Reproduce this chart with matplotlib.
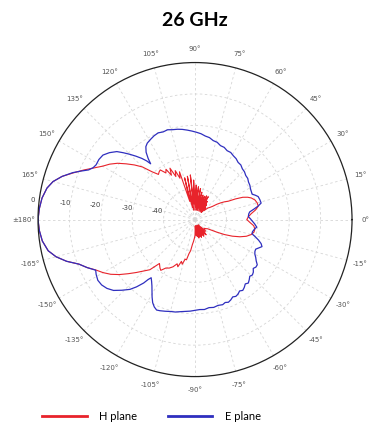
import numpy as np
import matplotlib.pyplot as plt

# H plane (red) - angle in degrees, gain in dB
h_ang = [180, 176, 172, 168, 165, 162, 159, 156, 153, 150, 147, 144, 141, 138, 135, 132,
         129, 127, 125, 122, 120, 118, 116, 114, 112, 110, 108, 106, 104, 102, 100, 98,
         96, 94, 92, 90, 88, 86, 84, 82, 80, 78, 76, 74, 72, 70, 68, 66, 64, 62, 60, 58,
         56, 54, 52, 50, 48, 45, 42, 39, 37, 35, 33, 31, 29, 27, 25, 23, 21, 18, 15, 12,
         9, 6, 3, 0, -3, -6, -9, -12, -15, -18, -21, -24, -27, -30, -33, -36, -40, -44,
         -48, -52, -54, -56, -58, -60, -62, -64, -66, -68, -70, -72, -74, -76, -78, -80,
         -82, -84, -86, -88, -90, -92, -94, -96, -98, -100, -102, -104, -106, -108, -110,
         -112, -115, -118, -121, -124, -126, -129, -132, -135, -138, -141, -144, -147,
         -150, -153, -156, -159, -162, -165, -168, -172, -176, -180]
h_db = [0.0, -0.3, -0.8, -1.8, -3.2, -5.5, -8.5, -11.2, -13.8, -16.0, -17.6, -19.5, -21.8,
        -24.0, -26.3, -29.5, -31.5, -31.0, -30.7, -32.5, -31.5, -34.0, -31.8, -35.0, -33.2,
        -36.0, -34.0, -44.0, -36.3, -46.0, -36.0, -47.0, -35.7, -45.0, -37.4, -47.0, -39.0,
        -46.0, -39.5, -47.0, -40.0, -46.5, -41.0, -47.0, -41.8, -46.0, -42.0, -47.0, -41.6,
        -46.5, -41.6, -47.0, -43.0, -46.5, -44.0, -47.0, -45.0, -46.0, -44.5, -43.8, -43.0,
        -41.5, -40.2, -39.0, -38.0, -35.5, -33.2, -31.8, -30.8, -29.9, -29.5, -29.4, -30.5,
        -32.0, -33.0, -33.5, -32.5, -31.2, -30.7, -30.8, -31.5, -32.8, -34.7, -37.0, -39.5,
        -42.0, -43.8, -45.0, -45.5, -46.0, -45.0, -47.0, -44.0, -48.0, -44.5, -47.5, -44.0,
        -48.0, -44.5, -47.0, -44.0, -48.0, -44.5, -47.0, -44.0, -48.0, -44.5, -47.0, -45.0,
        -48.0, -45.0, -44.0, -43.0, -42.0, -40.0, -39.0, -36.9, -37.0, -35.2, -36.0, -34.0,
        -34.8, -33.4, -32.5, -32.0, -30.5, -31.0, -32.0, -28.5, -26.8, -24.8, -22.6, -20.2,
        -18.0, -16.2, -14.6, -12.4, -10.4, -7.0, -4.2, -2.2, -0.9, -0.3, 0.0]

# E plane (blue)
e_ang = [180, 176, 172, 168, 165, 162, 159, 157, 155, 153, 151, 148, 145, 142, 139, 137,
         135, 133, 131, 129.5, 128.5, 127.5, 126, 124, 122, 119, 116, 113, 110, 107, 104,
         101, 98, 95, 92, 89, 86, 83, 80, 77, 74, 71, 68, 65, 62, 59, 56, 53, 50, 47, 44,
         41, 38, 35, 32, 29, 26, 24, 22, 20, 17, 14, 12, 10, 8, 6, 3, 1, -1, -4, -7, -9,
         -12, -14, -16, -18, -20, -22, -24, -26, -28, -30, -32, -34, -36, -38, -40, -42,
         -44, -46, -48, -50, -52, -54, -56, -58, -60, -62, -64, -66, -68, -70, -72, -75,
         -78, -81, -84, -87, -90, -93, -96, -99, -102, -105, -108, -111, -113, -115, -117,
         -119, -121, -123, -125, -127, -128, -129, -131, -133, -136, -139, -142, -145, -148,
         -151, -153, -156, -159, -162, -165, -168, -172, -176, -180]
e_db = [0.0, -0.3, -0.8, -1.8, -3.2, -5.5, -8.3, -10.5, -12.6, -13.6, -14.0, -13.9, -14.2,
        -15.4, -17.0, -18.8, -20.6, -22.4, -24.2, -25.8, -27.3, -25.5, -23.5, -22.0, -21.3,
        -20.8, -20.3, -20.0, -20.3, -20.1, -20.5, -20.7, -21.0, -21.4, -21.8, -22.2, -22.6,
        -23.2, -23.5, -24.2, -24.4, -25.1, -25.2, -25.8, -25.8, -26.3, -26.6, -27.2, -27.3,
        -27.9, -28.1, -28.6, -28.7, -29.2, -29.4, -29.8, -30.0, -30.1, -29.3, -28.6, -28.4,
        -28.3, -29.5, -31.0, -32.4, -32.8, -33.0, -32.4, -31.9, -31.0, -30.2, -30.8, -31.3,
        -31.3, -30.0, -28.7, -27.6, -27.0, -27.8, -28.5, -28.4, -28.0, -27.2, -26.5, -25.5,
        -25.4, -25.8, -25.0, -24.6, -24.9, -24.2, -23.6, -24.0, -23.3, -22.8, -23.2, -22.6,
        -22.3, -22.6, -22.0, -21.6, -21.9, -21.5, -21.7, -21.4, -21.6, -21.2, -21.3, -21.1,
        -20.8, -20.6, -20.3, -19.9, -19.7, -19.3, -18.9, -18.7, -19.3, -20.3, -21.8, -23.4,
        -24.8, -25.9, -26.8, -25.8, -24.0, -21.6, -19.6, -17.6, -15.6, -14.4, -13.7, -13.5,
        -14.0, -14.5, -12.4, -10.4, -7.0, -4.2, -2.2, -0.9, -0.3, 0.0]

theta_ticks = list(range(0, 181, 15)) + list(range(-165, 0, 15))
theta_labels = ['0°', '15°', '30°', '45°', '60°', '75°', '90°', '105°', '120°', '135°',
                '150°', '165°', '±180°', '-165°', '-150°', '-135°', '-120°', '-105°',
                '-90°', '-75°', '-60°', '-45°', '-30°', '-15°']
r_labels = [0, -10, -20, -30, -40]

fig = plt.figure(figsize=(3.69, 4.28), dpi=100)
ax = fig.add_axes([0.103, 0.120, 0.851, 0.734], projection='polar')

lh, = ax.plot(np.deg2rad(h_ang), h_db, color='#e8232b', lw=0.8, label='H plane')
le, = ax.plot(np.deg2rad(e_ang), e_db, color='#2f2fbf', lw=0.9, label='E plane')

ax.set_rlim(-50, 0)
ax.set_rticks([-40, -30, -20, -10])
ax.set_yticklabels([])
ax.set_thetagrids([t % 360 for t in theta_ticks], theta_labels,
                  fontsize=5, color='#555555')
ax.tick_params(axis='x', pad=3, direction='in', length=3, width=0.6, color='#333333')
ax.grid(True, color='#d6d6d6', lw=0.6, ls=(0, (3, 3)))
ax.spines['polar'].set_color('#222222')
ax.spines['polar'].set_linewidth(0.9)

offs = [(-3.5, 14), (-3, 12), (-4, 10.5), (-3.5, 8.5), (-4.5, 6.5)]
for v, (dx, dy) in zip(r_labels, offs):
    ax.annotate(str(v), xy=(np.pi, v), xytext=(dx, dy), textcoords='offset points',
                ha='center', va='center', fontsize=5, color='#444444')

fig.text(0.528, 0.953, '26 GHz', ha='center', va='center', fontsize=14,
         fontweight='bold', family='Lato')

leg = fig.legend(handles=[lh, le], loc='center', bbox_to_anchor=(0.41, 0.027),
                 ncol=2, frameon=False, handlelength=4.0, handletextpad=1.1,
                 columnspacing=2.8, prop={'family': 'Lato', 'size': 8})
for l in leg.get_lines():
    l.set_linewidth(2.0)

fig.savefig('out.png', dpi=100)
